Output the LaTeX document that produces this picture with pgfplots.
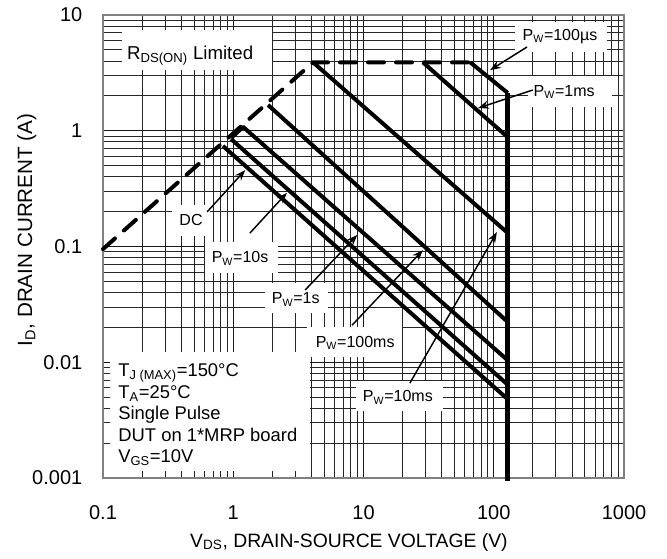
\documentclass[border=0pt]{standalone}
\usepackage{fontspec}
\setmainfont{Liberation Sans}
\usepackage{pgfplots}
\pgfplotsset{compat=1.18}
\usetikzlibrary{arrows.meta}
\tikzset{
  annot/.style={font=\fontsize{12}{14}\selectfont, anchor=base, inner sep=0pt},
  info/.style={font=\fontsize{13.8}{16}\selectfont, anchor=base west, inner sep=0pt},
  arr/.style={black, line width=1.1pt, -{Stealth[length=8pt,width=6pt]}},
}
\newcommand{\sub}[1]{\textsubscript{#1}}
\begin{document}
\begin{tikzpicture}
\useasboundingbox (0,0) rectangle (500.25pt,418.5pt);
\begin{axis}[
  at={(77.25pt,60pt)}, anchor=south west,
  scale only axis, width=390.75pt, height=347.25pt,
  xmode=log, ymode=log,
  xmin=0.1, xmax=1000, ymin=0.001, ymax=10,
  xtick={0.1,1,10,100,1000}, xticklabels={0.1,1,10,100,1000},
  ytick={0.001,0.01,0.1,1,10}, yticklabels={0.001,0.01,0.1,1,10},
  grid=both,
  major grid style={black!90, line width=0.75pt},
  minor grid style={black!85, line width=0.75pt},
  major tick length=0pt, minor tick length=0pt,
  axis line style={gray, line width=1.5pt},
  ticklabel style={font=\fontsize{15}{18}\selectfont},
  xticklabel style={anchor=center, yshift=-26pt},
  yticklabel style={anchor=east, xshift=-12pt},
  xlabel={V\sub{DS}, DRAIN-SOURCE VOLTAGE (V)},
  ylabel={I\sub{D}, DRAIN CURRENT (A)},
  xlabel style={font=\fontsize{14.5}{17}\selectfont, at={(axis description cs:0.472,-0.149)}, anchor=base},
  ylabel style={font=\fontsize{15.5}{18}\selectfont, at={(axis description cs:-0.136,0.536)}, anchor=base},
  clip=false,
]
% white boxes hiding the grid
\fill[white] (axis description cs:0.036,0.881) rectangle (axis description cs:0.324,0.968);
\fill[white] (axis description cs:0.0134,0.016) rectangle (axis description cs:0.397,0.272);
\fill[white] (axis description cs:0.133,0.523) rectangle (axis description cs:0.206,0.590);
\fill[white] (axis description cs:0.196,0.443) rectangle (axis description cs:0.336,0.509);
\fill[white] (axis description cs:0.311,0.356) rectangle (axis description cs:0.432,0.421);
\fill[white] (axis description cs:0.392,0.261) rectangle (axis description cs:0.574,0.326);
\fill[white] (axis description cs:0.486,0.145) rectangle (axis description cs:0.653,0.209);
\fill[white] (axis description cs:0.791,0.920) rectangle (axis description cs:0.967,0.984);
\fill[white] (axis description cs:0.816,0.801) rectangle (axis description cs:0.977,0.868);

% R_DS(on) limit
\addplot[black, line width=3pt, dash pattern=on 12pt off 9pt, line cap=round] coordinates {(0.1,0.095) (4.1,3.9) (66,3.9)};
% 100 us
\addplot[black, line width=3pt, line join=round] coordinates {(66,3.9) (128,2.12)};
% V_DS max
\addplot[black, line width=3.6pt] coordinates {(128,2.12) (128,0.00095)};
% 1 ms
\addplot[black, line width=3pt] coordinates {(28.6,3.9) (128,0.88)};
% 10 ms
\addplot[black, line width=3pt] coordinates {(4.1,3.9) (128,0.131)};
% 100 ms
\addplot[black, line width=3pt] coordinates {(1.85,1.67) (128,0.0223)};
% 1 s
\addplot[black, line width=3pt, line join=round] coordinates {(0.97,0.87) (1.19,1.08) (128,0.0104)};
% 10 s
\addplot[black, line width=3pt] coordinates {(0.961,0.849) (128,0.0064)};
% DC
\addplot[black, line width=3pt] coordinates {(0.834,0.738) (128,0.0048)};

% texts
\node[info, font=\fontsize{14}{16}\selectfont] at (axis description cs:0.046,0.904) {R\sub{DS(ON)} Limited};
\node[info] at (axis description cs:0.029,0.219) {T\sub{J (MAX)}=150°C};
\node[info] at (axis description cs:0.029,0.171) {T\sub{A}=25°C};
\node[info] at (axis description cs:0.029,0.126) {Single Pulse};
\node[info] at (axis description cs:0.029,0.079) {DUT on 1*MRP board};
\node[info] at (axis description cs:0.029,0.033) {V\sub{GS}=10V};

\node[annot] at (axis description cs:0.169,0.545) {DC};
\node[annot] at (axis description cs:0.263,0.465) {P\sub{W}=10s};
\node[annot] at (axis description cs:0.370,0.376) {P\sub{W}=1s};
\node[annot] at (axis description cs:0.484,0.282) {P\sub{W}=100ms};
\node[annot] at (axis description cs:0.566,0.165) {P\sub{W}=10ms};
\node[annot] at (axis description cs:0.877,0.945) {P\sub{W}=100µs};
\node[annot] at (axis description cs:0.885,0.824) {P\sub{W}=1ms};

% arrows
\draw[arr] (axis description cs:0.814,0.931) -- (axis description cs:0.743,0.881);
\draw[arr] (axis description cs:0.825,0.838) -- (axis description cs:0.720,0.799);
\draw[arr] (axis description cs:0.200,0.575) -- (axis description cs:0.273,0.665);
\draw[arr] (axis description cs:0.282,0.529) -- (axis description cs:0.353,0.616);
\draw[arr] (axis description cs:0.388,0.406) -- (axis description cs:0.488,0.525);
\draw[arr] (axis description cs:0.478,0.330) -- (axis description cs:0.614,0.492);
\draw[arr] (axis description cs:0.589,0.205) -- (axis description cs:0.756,0.531);
\end{axis}
\end{tikzpicture}
\end{document}
